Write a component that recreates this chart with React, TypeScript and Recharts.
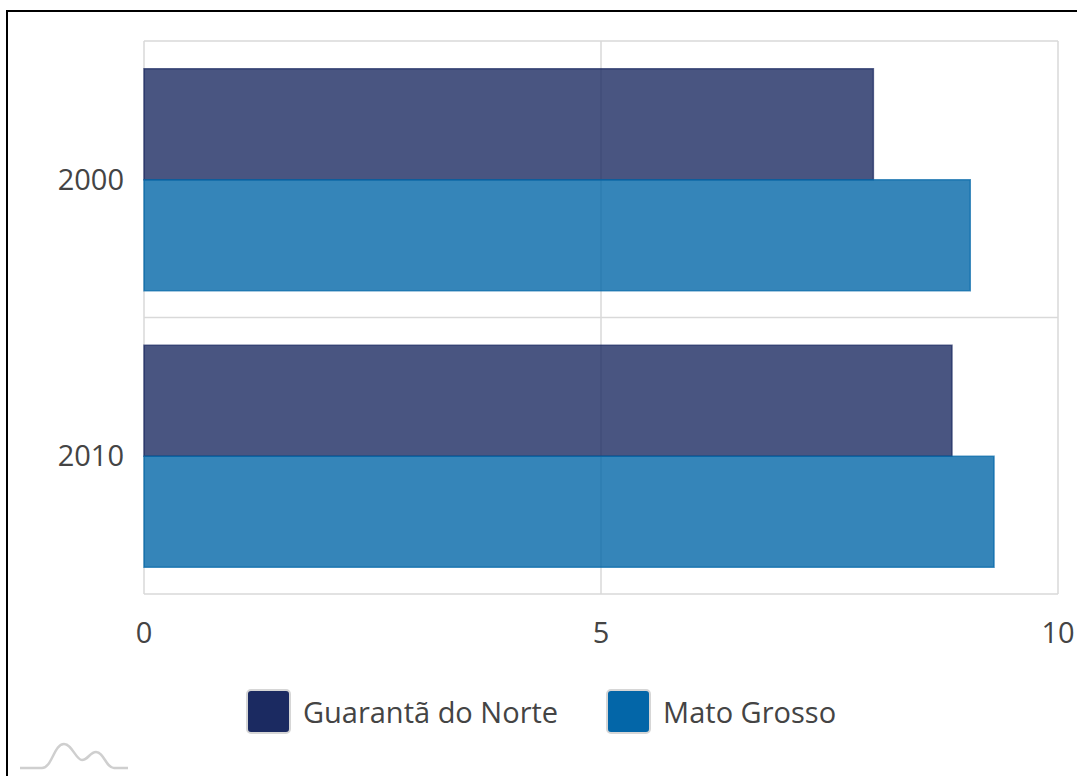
import React from "react";
import { BarChart, Bar, XAxis, YAxis, CartesianGrid, Legend } from "recharts";

const years = ["2000", "2010"];
const guarantaValues = [7.98, 8.84];
const matoGrossoValues = [9.04, 9.3];
const xTicks = [0, 5, 10];

const series = [
  { key: "guaranta", name: "Guarantã do Norte", color: "#1b2a61" },
  { key: "matoGrosso", name: "Mato Grosso", color: "#0366a8" },
];

const data = years.map((year, i) => ({
  year,
  guaranta: guarantaValues[i],
  matoGrosso: matoGrossoValues[i],
}));

const FONT = "'Open Sans', sans-serif";

const LegendContent = () => (
  <div
    style={{
      display: "flex",
      justifyContent: "center",
      alignItems: "center",
      height: 50,
      paddingLeft: 24,
      fontFamily: FONT,
    }}
  >
    {series.map((s, i) => (
      <div key={s.key} style={{ display: "flex", alignItems: "center", marginLeft: i ? 48 : 0 }}>
        <span
          style={{
            width: 45,
            height: 45,
            background: s.color,
            borderRadius: 5,
            border: "2px solid #d6d6d6",
            boxSizing: "border-box",
            marginRight: 12,
          }}
        />
        <span style={{ fontSize: 29, color: "#444" }}>{s.name}</span>
      </div>
    ))}
  </div>
);

const Logo = () => (
  <svg width={130} height={40} style={{ position: "absolute", left: 0, top: 736 }}>
    <path
      d="M20 32 L42 32 C52 32 54 8 64 8 C72 8 76 24 82 24 C88 24 90 16 96 16 C104 16 106 32 114 32 L128 32"
      fill="none"
      stroke="#cfcfcf"
      strokeWidth={2.5}
    />
  </svg>
);

export default function App() {
  return (
    <div style={{ position: "absolute", left: 0, top: 0, width: 1077, height: 776, overflow: "hidden" }}>
      <div
        style={{
          position: "absolute",
          left: 6,
          top: 10,
          width: 1100,
          height: 800,
          border: "2px solid #000",
        }}
      />
      <div style={{ position: "absolute", left: 0, top: 0 }}>
        <BarChart
          width={1077}
          height={776}
          data={data}
          layout="vertical"
          barCategoryGap="10%"
          barGap={0}
          margin={{ top: 41, right: 19, bottom: 52, left: 0 }}
        >
          <CartesianGrid
            stroke="#d9d9d9"
            strokeWidth={1.5}
            horizontalCoordinatesGenerator={({ offset }: any) => {
              const step = offset.height / years.length;
              return [...years.map((_, i) => offset.top + i * step), offset.top + offset.height];
            }}
          />
          <XAxis
            type="number"
            domain={[0, 10]}
            ticks={xTicks}
            axisLine={false}
            tickLine={false}
            tickSize={20}
            tickMargin={8}
            height={80}
            tick={{ fill: "#444", fontSize: 29, fontFamily: FONT }}
          />
          <YAxis
            type="category"
            dataKey="year"
            width={144}
            axisLine={false}
            tickLine={false}
            tickSize={12}
            tickMargin={8}
            tick={{ fill: "#444", fontSize: 29, fontFamily: FONT }}
          />
          <Legend verticalAlign="bottom" content={<LegendContent />} wrapperStyle={{ bottom: 40 }} />
          {series.map((s) => (
            <Bar
              key={s.key}
              dataKey={s.key}
              name={s.name}
              fill={s.color}
              fillOpacity={0.8}
              stroke={s.color}
              strokeOpacity={0.7}
              strokeWidth={1.5}
              isAnimationActive={false}
            />
          ))}
        </BarChart>
      </div>
      <Logo />
    </div>
  );
}
